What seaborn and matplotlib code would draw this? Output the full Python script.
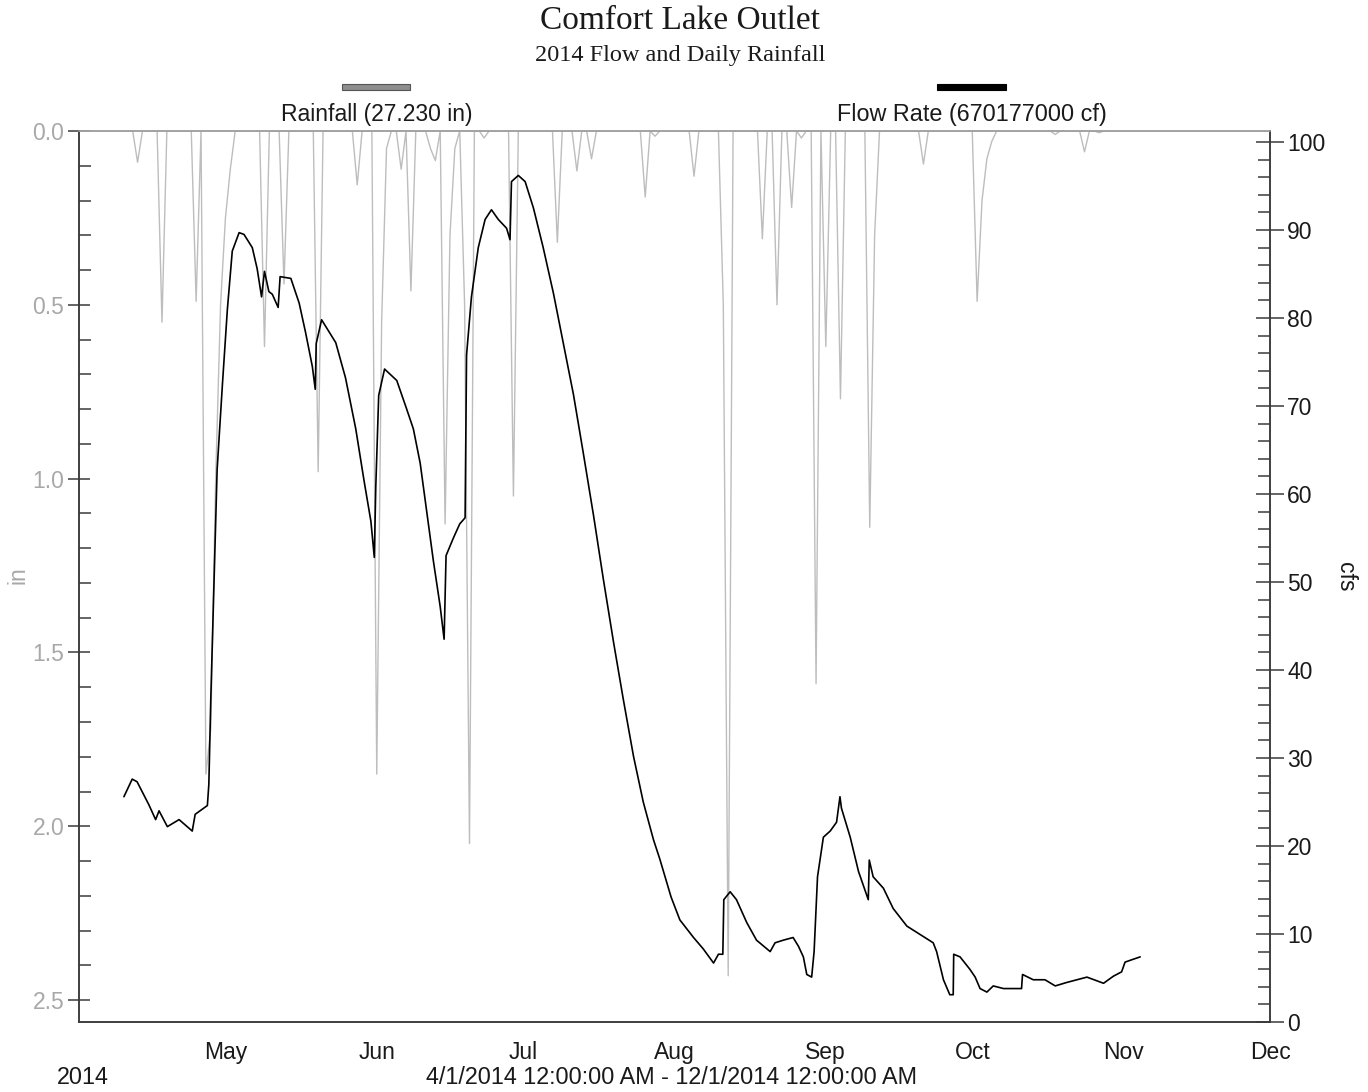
import matplotlib
matplotlib.use("Agg")
import matplotlib.pyplot as plt
import matplotlib.dates as mdates
from matplotlib.patches import Rectangle
from matplotlib.ticker import MultipleLocator, FixedLocator
import numpy as np
import pandas as pd
import seaborn as sns

sns.set_style("white")
plt.rcParams["font.family"] = ["Liberation Sans", "DejaVu Sans"]

START = pd.Timestamp("2014-04-01")
END = pd.Timestamp("2014-12-01")

# Flow rate (cfs) at day offsets from 4/1/2014
flow_day = [9.2, 10.9, 11.9, 14.3, 15.7, 16.4, 18.1, 20.5, 23.2, 23.8, 26.3, 26.6,
            27.0, 27.7, 28.3, 29.4, 30.4, 31.4, 32.8, 33.8, 35.5, 36.5, 37.4, 38.0,
            38.9, 39.6, 40.8, 41.2, 43.4, 45.1, 46.4, 47.8, 48.4, 48.6, 49.7, 52.6,
            54.6, 56.7, 58.4, 59.8, 60.5, 60.8, 61.4, 62.6, 65.1, 67.1, 68.5, 69.9,
            71.2, 72.6, 74.0, 74.8, 75.2, 76.7, 78.0, 79.1, 79.4, 80.4, 81.8, 83.2,
            84.5, 85.9, 87.6, 88.3, 88.6, 90.0, 91.4, 93.1, 95.1, 97.2, 99.2, 101.3,
            103.3, 105.4, 107.4, 109.5, 111.5, 113.6, 115.6, 117.7, 119.0, 121.3,
            123.1, 125.9, 127.9, 130.0, 131.0, 131.9, 132.1, 133.4, 134.7, 136.8,
            138.8, 141.6, 142.6, 144.3, 146.3, 147.4, 148.4, 149.1, 150.1, 150.6,
            151.3, 152.5, 153.9, 155.2, 155.9, 156.2, 158.0, 159.7, 161.7, 161.9,
            162.7, 164.8, 166.8, 169.6, 172.3, 175.0, 175.7, 177.1, 178.4, 179.1,
            179.2, 180.5, 182.5, 183.6, 184.6, 186.0, 187.3, 189.4, 193.1, 193.3,
            195.5, 197.9, 200.0, 202.4, 206.5, 209.9, 211.9, 213.6, 214.3, 215.3,
            217.4]
flow_cfs = [25.6, 27.6, 27.3, 24.7, 23.0, 24.0, 22.2, 23.0, 21.7, 23.6, 24.6, 27.0,
            36.7, 51.0, 62.8, 72.6, 81.0, 87.6, 89.7, 89.5, 88.0, 85.6, 82.4, 85.3,
            83.0, 82.7, 81.2, 84.7, 84.5, 81.7, 78.4, 74.5, 71.9, 77.1, 79.8, 77.2,
            73.2, 67.4, 61.5, 56.9, 52.8, 60.8, 71.2, 74.2, 72.9, 69.7, 67.4, 63.5,
            58.2, 52.4, 47.2, 43.5, 53.0, 55.0, 56.6, 57.3, 75.8, 82.4, 88.0, 91.2,
            92.3, 91.2, 90.2, 88.9, 95.5, 96.2, 95.5, 92.5, 88.0, 82.8, 77.2, 71.3,
            64.7, 57.6, 50.4, 43.2, 36.7, 30.2, 25.0, 20.7, 18.5, 14.2,
            11.6, 9.6, 8.3, 6.7, 7.7, 7.7, 13.9, 14.8, 13.9, 11.3,
            9.3, 8.0, 9.0, 9.3, 9.6, 8.6, 7.4, 5.4, 5.1, 8.0,
            16.5, 21.0, 21.7, 22.7, 25.6, 24.3, 21.0, 17.1, 13.9, 18.4,
            16.5, 15.2, 12.9, 10.9, 9.95, 9.0, 8.0, 4.8, 3.1, 3.1,
            7.7, 7.4, 6.0, 5.1, 3.8, 3.4, 4.1, 3.8, 3.8, 5.4,
            4.8, 4.8, 4.1, 4.5, 5.1, 4.4, 5.2, 5.7, 6.8, 7.0,
            7.4]

# Daily rainfall (in) on rain days, day offsets from 4/1/2014
rain_day = [12, 17, 24, 26, 27, 28, 29, 30, 31, 38, 42, 49, 57, 61, 62, 63, 66, 68,
            72, 73, 75, 76, 77, 79, 80, 83, 89, 98, 102, 105, 116, 118, 126, 132,
            133, 140, 143, 146, 148, 151, 153, 156, 162, 163, 173, 184, 185, 186,
            187, 200, 206, 209]
rain_in = [0.09, 0.55, 0.49, 1.85, 1.72, 1.0, 0.5, 0.25, 0.11, 0.62, 0.44, 0.98,
           0.155, 1.85, 0.55, 0.05, 0.11, 0.46, 0.05, 0.085, 1.13, 0.3, 0.05, 0.5,
           2.05, 0.02, 1.05, 0.32, 0.115, 0.08, 0.19, 0.015, 0.13, 0.5, 2.43, 0.31,
           0.50, 0.22, 0.02, 1.59, 0.62, 0.77, 1.14, 0.3, 0.095, 0.49, 0.2, 0.08,
           0.03, 0.01, 0.06, 0.005]

flow_total_cf = "670177000"

month_ticks = ["2014-05-01", "2014-06-01", "2014-07-01", "2014-08-01",
               "2014-09-01", "2014-10-01", "2014-11-01", "2014-12-01"]

# Tables for plotting
rain = pd.Series(0.0, index=pd.date_range(START, END, freq="D"))
rain.iloc[rain_day] = rain_in
rain_df = rain.rename_axis("date").reset_index(name="rain")
flow_df = pd.DataFrame({"date": START + pd.to_timedelta(flow_day, unit="D"),
                        "cfs": flow_cfs})

W, H = 1368, 1092
fig = plt.figure(figsize=(W / 100, H / 100), dpi=100)
ax = fig.add_axes([79 / W, 1 - 1022 / H, (1270 - 79) / W, (1022 - 131) / H])
ax2 = ax.twinx()

sns.lineplot(data=rain_df, x="date", y="rain", ax=ax, color="#bdbdbd", lw=1.0)
sns.lineplot(data=flow_df, x="date", y="cfs", ax=ax2, color="black", lw=1.2)

ax.set_xlim(START, END)
ax.set_ylim(2.563, 0)
ax2.set_ylim(0, 101.25)
for a in (ax, ax2):
    a.set_xlabel("")
    a.set_ylabel("")

dark = "#3a3a3a"
grey_txt = "#a8a8a8"

# x axis: months
ax.xaxis.set_major_locator(FixedLocator(mdates.date2num(pd.to_datetime(month_ticks))))
ax.xaxis.set_major_formatter(mdates.DateFormatter("%b"))
ax.xaxis.set_minor_locator(mdates.DayLocator(bymonthday=[8, 15, 22]))
ax.tick_params(axis="x", which="major", direction="inout", length=19.5, width=1.1,
               color=dark, labelsize=16.5, labelcolor="#1a1a1a", pad=4, top=False)
ax.tick_params(axis="x", which="minor", direction="in", length=6, width=1.1,
               color=dark, top=False)

# left axis: rainfall
ax.set_yticks(np.arange(0, 2.51, 0.5))
ax.set_yticklabels([f"{v:.1f}" for v in np.arange(0, 2.51, 0.5)])
ax.yaxis.set_minor_locator(MultipleLocator(0.1))
ax.tick_params(axis="y", which="major", direction="inout", length=16, width=1.1,
               color=dark, labelsize=16.5, labelcolor=grey_txt, pad=2.5)
ax.tick_params(axis="y", which="minor", direction="in", length=8.5, width=1.1,
               color=dark)

# right axis: flow
ax2.set_yticks(np.arange(0, 101, 10))
ax2.yaxis.set_minor_locator(MultipleLocator(2))
ax2.tick_params(axis="y", which="major", direction="inout", length=19.5, width=1.1,
                color=dark, labelsize=16.5, labelcolor="#1a1a1a", pad=2.5)
ax2.tick_params(axis="y", which="minor", direction="in", length=8.5, width=1.1,
                color=dark)

for a in (ax, ax2):
    for side in ("left", "right", "bottom"):
        a.spines[side].set_color(dark)
        a.spines[side].set_linewidth(1.1)
    a.spines["top"].set_color("#a0a0a0")
    a.spines["top"].set_linewidth(1.1)

# titles
serif = ["Liberation Serif", "DejaVu Serif"]
fig.text(680 / W, 1 - 21 / H, "Comfort Lake Outlet", family=serif, fontsize=24,
         ha="center", va="center", color="#1a1a1a")
fig.text(680 / W, 1 - 55 / H, "2014 Flow and Daily Rainfall", family=serif,
         fontsize=17.5, ha="center", va="center", color="#1a1a1a")

# legend swatches and labels
fig.add_artist(Rectangle((342 / W, 1 - 90 / H), 68 / W, 6 / H, transform=fig.transFigure,
                         facecolor="#8e8e8e", edgecolor="#555555", lw=0.8))
fig.add_artist(Rectangle((937 / W, 1 - 90 / H), 69 / W, 6 / H, transform=fig.transFigure,
                         facecolor="black", edgecolor="black", lw=0.8))
rain_total = sum(rain_in)
fig.text(377 / W, 1 - 114 / H, f"Rainfall ({rain_total:.3f} in)", fontsize=16.5,
         ha="center", va="center", color="#1a1a1a")
fig.text(972 / W, 1 - 114 / H, f"Flow Rate ({flow_total_cf} cf)", fontsize=16.8,
         ha="center", va="center", color="#1a1a1a")

# axis titles
fig.text(18 / W, 1 - 575 / H, "in", rotation=90, fontsize=16.5, color=grey_txt,
         ha="center", va="center")
fig.text(1346 / W, 1 - 577 / H, "cfs", rotation=-90, fontsize=16.5, color="#1a1a1a",
         ha="center", va="center")

# date range footer
fig.text(57 / W, 1 - 1078 / H, "2014", fontsize=16.8, ha="left", va="center",
         color="#1a1a1a")
fig.text(672 / W, 1 - 1078 / H, "4/1/2014 12:00:00 AM - 12/1/2014 12:00:00 AM",
         fontsize=16.8, ha="center", va="center", color="#1a1a1a")

fig.savefig("out.png", dpi=100, facecolor="white")
